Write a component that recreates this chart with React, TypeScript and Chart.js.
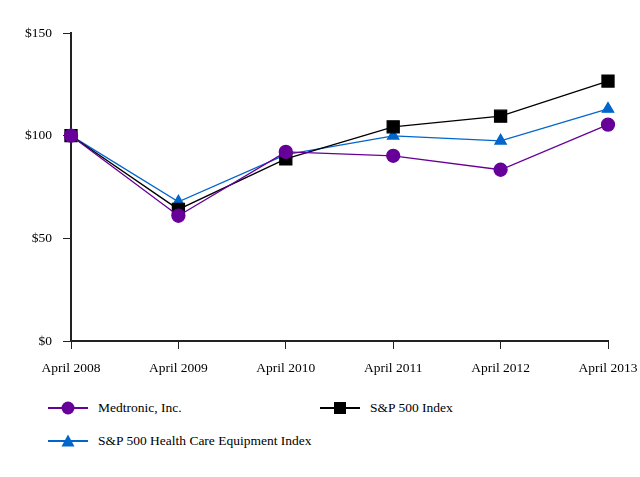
import { useEffect, useRef } from "react";
import { Chart, registerables } from "chart.js";

Chart.register(...registerables);

const years = ["April 2008", "April 2009", "April 2010", "April 2011", "April 2012", "April 2013"];
const medtronic = [100, 61, 92.1, 90.2, 83.4, 105.4];
const sp500 = [100, 64.1, 88.7, 104.3, 109.5, 126.6];
const hcEquipment = [100, 67.8, 90.8, 99.9, 97.5, 113];

const FONT = "'Liberation Serif', 'Times New Roman', serif";
const PURPLE = "#660099";
const BLUE = "#0066CC";

function LegendMark({ color, shape }: { color: string; shape: "circle" | "rect" | "triangle" }) {
  return (
    <svg width={40} height={16} style={{ position: "absolute", left: 0, top: 0 }}>
      <line x1={0} y1={8} x2={40} y2={8} stroke={color} strokeWidth={2} />
      {shape === "circle" && <circle cx={20} cy={8} r={6.5} fill={color} />}
      {shape === "rect" && <rect x={14} y={2} width={12} height={12} fill={color} />}
      {shape === "triangle" && <polygon points="20,1.5 26.5,13.5 13.5,13.5" fill={color} />}
    </svg>
  );
}

function LegendItem({ left, top, color, shape, label }: { left: number; top: number; color: string; shape: "circle" | "rect" | "triangle"; label: string }) {
  return (
    <div style={{ position: "absolute", left, top, height: 16 }}>
      <LegendMark color={color} shape={shape} />
      <span style={{ position: "absolute", left: 50, top: 0, whiteSpace: "nowrap", fontFamily: FONT, fontSize: 13.5, lineHeight: "16px", color: "#000" }}>
        {label}
      </span>
    </div>
  );
}

export default function App() {
  const canvasRef = useRef<HTMLCanvasElement>(null);

  useEffect(() => {
    if (!canvasRef.current) return;
    const chart = new Chart(canvasRef.current, {
      type: "line",
      data: {
        labels: years,
        datasets: [
          {
            label: "Medtronic, Inc.",
            data: medtronic,
            borderColor: PURPLE,
            backgroundColor: PURPLE,
            borderWidth: 1.3,
            pointStyle: "circle",
            pointRadius: 6.5,
            tension: 0,
          },
          {
            label: "S&P 500 Index",
            data: sp500,
            borderColor: "#000",
            backgroundColor: "#000",
            borderWidth: 1.3,
            pointStyle: "rect",
            pointRadius: 8.5,
            tension: 0,
          },
          {
            label: "S&P 500 Health Care Equipment Index",
            data: hcEquipment,
            borderColor: BLUE,
            backgroundColor: BLUE,
            borderWidth: 1.3,
            pointStyle: "triangle",
            pointRadius: 6.5,
            tension: 0,
          },
        ],
      },
      options: {
        responsive: false,
        animation: false,
        layout: { padding: { top: 33, right: 32, left: 0, bottom: 0 } },
        plugins: { legend: { display: false }, tooltip: { enabled: false } },
        scales: {
          x: {
            offset: false,
            grid: { drawOnChartArea: false, tickLength: 8, tickColor: "#222", tickWidth: 1 },
            border: { display: true, color: "#222", width: 2 },
            ticks: { color: "#000", font: { family: FONT, size: 13.5 }, padding: 11, maxRotation: 0, autoSkip: false },
            afterFit: (scale) => {
              scale.height = 39;
              scale.paddingLeft = 0;
              scale.paddingRight = 0;
            },
          },
          y: {
            min: 0,
            max: 150,
            grid: { drawOnChartArea: false, tickLength: 8, tickColor: "#222", tickWidth: 1 },
            border: { display: true, color: "#222", width: 2 },
            ticks: {
              stepSize: 50,
              color: "#000",
              font: { family: FONT, size: 13.5 },
              padding: 11,
              callback: (v) => `$${v}`,
            },
            afterFit: (scale) => {
              scale.width = 71;
            },
          },
        },
      },
    });
    return () => chart.destroy();
  }, []);

  return (
    <div style={{ position: "fixed", left: 0, top: 0, width: 640, height: 477, background: "#fff" }}>
      <canvas ref={canvasRef} width={640} height={380} style={{ display: "block" }} />
      <LegendItem left={48} top={400} color={PURPLE} shape="circle" label="Medtronic, Inc." />
      <LegendItem left={320} top={400} color="#000" shape="rect" label="S&P 500 Index" />
      <LegendItem left={48} top={433} color={BLUE} shape="triangle" label="S&P 500 Health Care Equipment Index" />
    </div>
  );
}
